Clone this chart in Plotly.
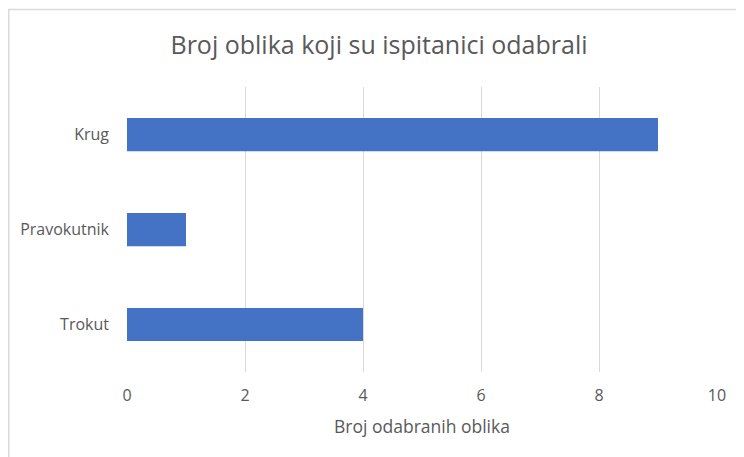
import plotly.graph_objects as go

categories = ["Krug", "Pravokutnik", "Trokut"]
values = [9, 1, 4]
x_ticks = [0, 2, 4, 6, 8, 10]

title_text = "Broj oblika koji su ispitanici odabrali"
x_title = "Broj odabranih oblika"

# page body has an 8px margin, so the figure is sized to fit inside the window
W, H = 736, 449
L, R, T, B = 119, 27, 79, 85
pw, ph = W - L - R, H - T - B

def px_x(x):
    return (x - L) / pw

def px_y(y):
    return 1 - (y - T) / ph

font_family = "Open Sans, Noto Sans, sans-serif"
grey = "#595959"

fig = go.Figure(go.Bar(
    x=values, y=categories, orientation="h",
    marker=dict(color="#4472C4", line=dict(width=0)),
    width=0.35,
))

bx, by = px_x(0.75), px_y(1.5)
fig.add_shape(type="path", xref="paper", yref="paper",
              path=f"M {bx} {px_y(H + 5)} L {bx} {by} L {px_x(W + 5)} {by}",
              line=dict(color="#d9d9d9", width=1.5))

fig.update_layout(
    width=W, height=H,
    margin=dict(l=L, r=R, t=T, b=B),
    paper_bgcolor="white", plot_bgcolor="white",
    title=dict(text=title_text, x=371 / W, xanchor="center",
               y=1 - 37 / H, yanchor="middle",
               font=dict(family=font_family, size=25, color=grey)),
    font=dict(family=font_family, color=grey, size=16),
    showlegend=False,
    xaxis=dict(range=[0, 10], tickvals=x_ticks, showgrid=True,
               gridcolor="#d9d9d9", gridwidth=1, zeroline=False,
               showline=False, ticks="", ticklabelstandoff=12,
               tickfont=dict(size=16, color=grey),
               title=dict(text=x_title, font=dict(size=17.5, color=grey), standoff=15)),
    yaxis=dict(categoryorder="array", categoryarray=categories, autorange="reversed",
               showgrid=False, zeroline=False, showline=False, ticks="",
               ticklabelstandoff=17, tickfont=dict(size=16, color=grey)),
)

fig.write_html("out.html")
